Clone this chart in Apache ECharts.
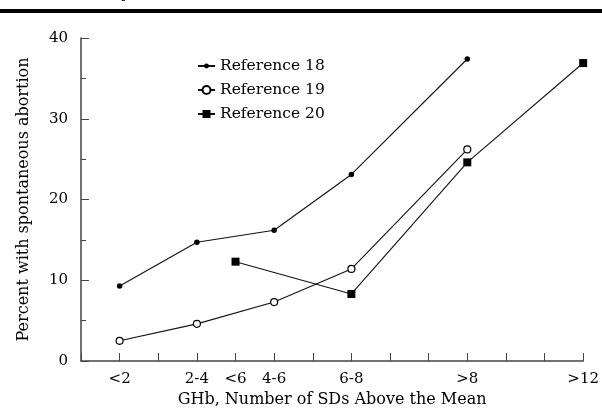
<!DOCTYPE html>
<html>
<head>
<meta charset="utf-8">
<script src="https://cdn.jsdelivr.net/npm/echarts@6/dist/echarts.min.js"></script>
<style>
html,body{margin:0;padding:0;background:#fff;}
#c{width:602px;height:413px;}
</style>
</head>
<body>
<div id="c"></div>
<script>
// x-axis tick labels and their positions (in SD steps along the axis)
const xLabels = ['<2', '2-4', '<6', '4-6', '6-8', '>8', '>12'];
const xPositions = [1, 3, 4, 5, 7, 10, 13];

const ref18Cats = ['<2', '2-4', '4-6', '6-8', '>8'];
const ref18Vals = [9.3, 14.7, 16.2, 23.1, 37.4];

const ref19Cats = ['<2', '2-4', '4-6', '6-8', '>8'];
const ref19Vals = [2.5, 4.6, 7.3, 11.4, 26.2];

const ref20Cats = ['<6', '6-8', '>8', '>12'];
const ref20Vals = [12.3, 8.3, 24.6, 36.9];

const yTicks = [0, 10, 20, 30, 40];

function pos(cat) { return xPositions[xLabels.indexOf(cat)]; }
function pairs(cats, vals) { return cats.map((c, i) => [pos(c), vals[i]]); }
const labelAt = {};
xPositions.forEach((p, i) => { labelAt[p] = xLabels[i]; });

const FONT = 'DejaVu Serif';
const legendText = {fontFamily: FONT, fontSize: 15.5, color: '#000'};
function legendFor(name, top, h) {
  return {
    orient: 'vertical', left: 197, top: top, padding: 0,
    itemWidth: 17, itemHeight: h, itemGap: 0,
    textStyle: legendText, data: [name]
  };
}

const chart = echarts.init(document.getElementById('c'), null, {renderer: 'canvas'});
chart.setOption({
  animation: false,
  backgroundColor: '#fff',
  textStyle: {fontFamily: FONT},
  grid: {left: 81, right: 17, top: 38, bottom: 52, containLabel: false},
  legend: [
    legendFor('Reference 18', 58, 6),
    legendFor('Reference 19', 82, 10),
    legendFor('Reference 20', 106, 10)
  ],
  xAxis: {
    type: 'value',
    min: 0, max: 13, interval: 1,
    name: 'GHb, Number of SDs Above the Mean',
    nameLocation: 'middle',
    nameGap: 30,
    nameTextStyle: {fontFamily: FONT, fontSize: 16, color: '#000'},
    axisLine: {show: true, onZero: false, lineStyle: {color: '#444', width: 1.5}},
    axisTick: {show: true, inside: true, length: 8, lineStyle: {color: '#444', width: 1}},
    splitLine: {show: false},
    axisLabel: {
      fontFamily: FONT, fontSize: 15, color: '#000', margin: 11,
      showMinLabel: true, showMaxLabel: true,
      formatter: v => labelAt[v] || ''
    }
  },
  yAxis: {
    type: 'value',
    min: yTicks[0], max: yTicks[yTicks.length - 1], interval: 10,
    name: 'Percent with spontaneous abortion',
    nameLocation: 'middle',
    nameGap: 49,
    nameTextStyle: {fontFamily: FONT, fontSize: 16, color: '#000'},
    axisLine: {show: true, lineStyle: {color: '#444', width: 1.5}},
    axisTick: {show: true, inside: true, length: 8, lineStyle: {color: '#444', width: 1}},
    minorTick: {show: true, splitNumber: 2, length: 5, lineStyle: {color: '#444', width: 1}},
    splitLine: {show: false},
    axisLabel: {fontFamily: FONT, fontSize: 15, color: '#000', margin: 13}
  },
  series: [
    {
      name: 'Reference 18', type: 'line',
      data: pairs(ref18Cats, ref18Vals),
      symbol: 'circle', symbolSize: 5.5,
      lineStyle: {color: '#111', width: 1.1},
      itemStyle: {color: '#000', borderWidth: 0}
    },
    {
      name: 'Reference 19', type: 'line',
      data: pairs(ref19Cats, ref19Vals),
      symbol: 'circle', symbolSize: 7,
      lineStyle: {color: '#111', width: 1.1},
      itemStyle: {color: '#fff', borderColor: '#000', borderWidth: 1.2}
    },
    {
      name: 'Reference 20', type: 'line',
      data: pairs(ref20Cats, ref20Vals),
      symbol: 'rect', symbolSize: 8,
      lineStyle: {color: '#111', width: 1.1},
      itemStyle: {color: '#000', borderWidth: 0}
    }
  ],
  graphic: [
    {type: 'rect', left: 0, top: 9, shape: {width: 602, height: 4}, style: {fill: '#000'}},
    {type: 'text', left: 121, top: -13, style: {text: 'y', font: 'bold 15px "DejaVu Serif"', fill: '#000'}}
  ]
});
</script>
</body>
</html>
